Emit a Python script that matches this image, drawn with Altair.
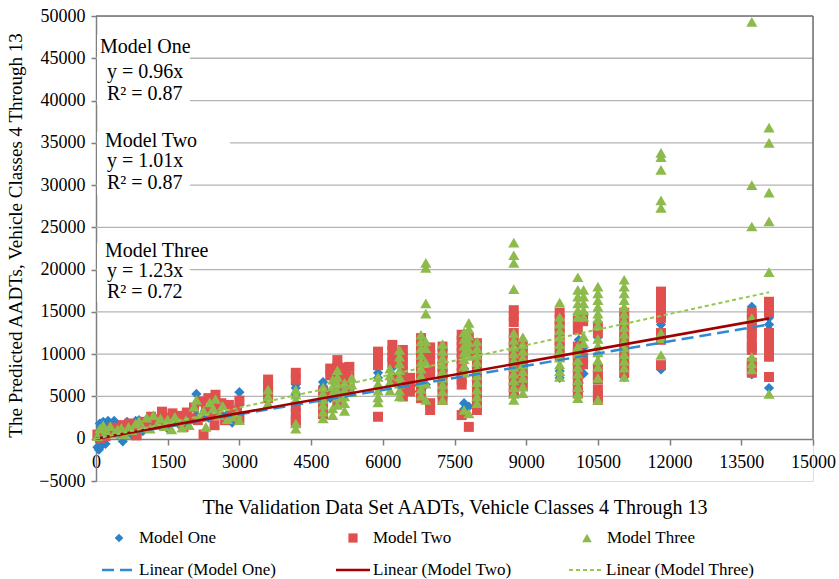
import altair as alt
import pandas as pd

# ---------------- data ----------------
x_ticks = [0, 1500, 3000, 4500, 6000, 7500, 9000, 10500, 12000, 13500, 15000]
y_ticks = [-5000, 0, 5000, 10000, 15000, 20000, 25000, 30000, 35000, 40000, 45000, 50000]
grid_vals = [5000, 10000, 15000, 20000, 25000, 30000, 35000, 40000, 45000]

model_names = ["Model One", "Model Two", "Model Three"]
slopes = [0.96, 1.01, 1.23]
r_squared = [0.87, 0.87, 0.72]

# Model One (blue diamonds)
one_low_x = [30, 30, 60, 80, 100, 120, 150, 180, 200, 250, 280, 330, 380, 430, 450, 500, 560, 620, 650, 700,
             760, 830, 900, 980, 1050, 1120, 1200, 1280, 1350, 1420, 1500, 1580, 1650, 1720, 1800, 1880, 1950,
             2100, 2100, 2200, 2280, 2350, 2430, 2500, 2580, 2650, 2750, 2850, 2950, 3000, 3000]
one_low_y = [-1000, 300, -1300, 1800, 1400, -800, 2000, 1700, -600, 2100, 1900, 1200, 2100, 1800, 500, 1600,
             -300, 1100, 2000, 1700, 400, 2100, 2200, 900, 2000, 2600, 1800, 2300, 1500, 2700, 1200, 2300, 2600,
             1800, 2400, 2000, 2500, 5300, 2800, 2600, 3300, 2500, 3900, 4200, 3100, 2600, 2900, 1900, 2400,
             5500, 4000]
one_hi_x = [3600, 4180, 4750, 4900, 5100, 5300, 5900, 6200, 6400, 6600, 6900, 7250, 7700, 7800, 7970, 8750,
            8930, 9700, 10100, 10200, 10500, 11050, 11820, 13720, 14080]
one_hi_y = [[6000, 5500], [6400, 6000, 5200], [6700, 6200, 4200], [5500, 4800], [6000, 5200], [6700, 6100],
            [7800, 7200], [8400, 7400], [7600, 6800], [5600, 6300], [9500, 8000, 6400], [9800, 7200, 5400],
            [10200, 8300, 4200, 3500], [10000, 3800], [9000, 6400, 4800], [9900, 8000, 6500, 5300],
            [8800, 7200], [9500, 8000, 7200], [11700, 8000, 6600, 5600], [10800, 7700], [12000, 10000, 8700],
            [11200, 9800, 7300], [13500, 8200], [15600, 12500, 7600], [14300, 13500, 12900, 6000]]

# Model Two (red squares)
two_low_x = [30, 80, 130, 200, 280, 350, 430, 500, 560, 640, 700, 780, 850, 920, 1000, 1080, 1150, 1230, 1300,
             1380, 1450, 1520, 1600, 1680, 1750, 1830, 1900, 1980, 2050, 2130, 2200, 2250, 2300, 2350, 2420,
             2480, 2500, 2550, 2620, 2700, 2780, 2850, 2950, 3000, 3000]
two_low_y = [500, 100, 800, 300, 900, 1300, 700, 1100, 1600, 900, 1800, 1200, 400, 1700, 2000, 1400, 2600,
             2300, 1800, 3200, 2500, 2000, 3000, 2600, 2700, 1400, 3100, 2400, 3700, 2200, 4400, 500, 3300,
             4800, 2900, 1600, 5200, 3600, 4200, 2200, 4000, 2800, 3300, 4500, 2400]
two_hi_x = [3600, 4180, 4750, 4900, 5050, 5200, 5300, 5900, 6200, 6420, 6570, 6800, 6990, 7250, 7650, 7800,
            7970, 8740, 8930, 9700, 10080, 10190, 10500, 11050, 11820, 13720, 14080]
two_hi_y = [[7000, 6300, 5600, 4800], [7800, 7000, 3800, 3000, 2200, 1900], [5600, 4400, 3400, 2900],
            [8300, 7500, 5200], [9300, 8500, 7700, 4200], [8400, 7800, 7000, 6300], [8500, 7300, 6600, 6000],
            [10300, 9500, 8700, 2600], [11100, 10400, 9600, 9000, 7000],
            [10500, 9700, 8900, 8000, 7200, 6400, 5600, 5000], [7200, 6400, 5600],
            [11900, 11100, 10300, 9500, 8700, 7900, 7100, 6300, 5500, 4800],
            [10800, 10000, 9200, 8400, 7600, 4200, 3400],
            [10900, 10100, 9300, 8500, 7700, 6900, 6100, 5300, 4600],
            [12300, 11600, 10900, 10200, 9400, 8600, 7800, 7000, 6400, 2800], [12000, 11300, 10600, 1400],
            [11300, 10500, 9700, 8900, 8100, 7300, 6500, 5700, 4900, 4100, 3400],
            [15200, 14500, 13800, 12500, 11700, 10900, 10100, 9300, 8500, 7700, 6900, 6100, 5400],
            [11000, 10200, 9400, 8200, 7200, 6200], [14900, 14100, 13300, 12400, 11600, 10800, 9800],
            [14000, 12900, 10900, 10100, 9300, 8500, 7700, 6900, 6100, 5400], [14400, 13900, 9600, 8800],
            [13300, 12500, 8200, 7500, 7000, 5800, 5100, 4600],
            [14900, 14100, 13300, 12500, 11700, 10900, 10100, 9300, 8500, 7800],
            [17400, 16600, 15800, 15000, 14300, 12500, 11700, 8700],
            [14900, 14100, 13300, 12500, 11700, 10900, 10500, 9000, 8400, 7800],
            [16200, 15500, 15000, 12500, 11700, 10900, 10200, 9700, 7300]]

# Model Three (green triangles)
three_low_x = [30, 80, 150, 220, 300, 380, 450, 530, 600, 680, 750, 830, 900, 980, 1060, 1130, 1200, 1280, 1350,
               1430, 1500, 1580, 1650, 1730, 1800, 1880, 1950, 2050, 2100, 2150, 2250, 2300, 2380, 2450, 2500,
               2580, 2650, 2750, 2850, 2950, 3000]
three_low_y = [300, 1200, 1600, 900, 1500, 600, 1100, 1300, 500, 1400, 1000, 1800, 2100, 1300, 2500, 1200, 2800,
               1700, 2400, 1500, 2300, 1100, 2600, 2000, 1300, 2200, 1600, 3800, 4600, 2600, 3300, 1400, 4300,
               3600, 4700, 2800, 3900, 2300, 2600, 3000, 2200]
three_hi_x = [3600, 4180, 4750, 4950, 5050, 5200, 5350, 5900, 6150, 6350, 6800, 6900, 7250, 7700, 7800, 7970,
              8740, 8930, 9700, 10080, 10200, 10500, 11050, 11820, 13720, 14080]
three_hi_y = [[5800, 5000, 4200], [5800, 5200, 4600, 1800, 1200], [6100, 5400, 4700, 4000, 3200, 2400],
              [7000, 6200, 5400, 3600, 2800], [8100, 7300, 6500, 5700, 4900, 4000], [6600, 5800, 5000, 4200, 3300],
              [7200, 6400, 5500], [7300, 6500, 5700, 4900, 4300], [8300, 7500, 6700, 5700],
              [10500, 9700, 8900, 8100, 7300, 6500, 5700, 5000],
              [12300, 11500, 10700, 9900, 9100, 8300, 7500, 6700, 5900, 5100],
              [20800, 20200, 16000, 14800, 11500, 10700, 9000, 6500, 4600],
              [11200, 10400, 9600, 8800, 8000, 7200, 6400, 5600, 4600],
              [12600, 11800, 11000, 10200, 9400, 8600, 7800, 3400],
              [13700, 13000, 12200, 11400, 10600, 9800, 3000],
              [11500, 10700, 9900, 9100, 8300, 7500, 6700, 5800, 5000, 4200],
              [23200, 21700, 20800, 17700, 12500, 11700, 10900, 10100, 9300, 8500, 7700, 6900, 6100, 5300, 4600],
              [12000, 11200, 10400, 9600, 8800, 8000, 7200, 6200, 5400],
              [16100, 14400, 13600, 12800, 12000, 11200, 10400, 9600, 8800, 8000, 7300],
              [19100, 17600, 16800, 16000, 15200, 14400, 10900, 10100, 9300, 8500, 7700, 6900, 6100, 5300, 4800],
              [17600, 16800, 16000, 15200, 14400, 12100, 11300],
              [18000, 17200, 16400, 15600, 14800, 14200, 13400, 11800, 11000, 10200, 9300, 8500, 7200, 4600],
              [18800, 18000, 17200, 16400, 15600, 14800, 14000, 13200, 12400, 11600, 10800, 10000, 9200, 8400, 7300],
              [33800, 33300, 31800, 28200, 27300, 12500, 11900, 9900],
              [49300, 30000, 25100, 14300, 9700, 8900, 8200],
              [36800, 35000, 29100, 25700, 19700, 5300]]

# ---------------- styling ----------------
FONT = "Liberation Serif"
C_BLUE, C_RED, C_GREEN = "#2A82C8", "#E0504E", "#8DBB4B"
C_BLUE_LINE, C_RED_LINE, C_GREEN_LINE = "#2E8BD2", "#A00000", "#93C952"
W, H = 717, 465


def build(low_x, low_y, hi_x, hi_y, name):
    xs, ys = list(low_x), list(low_y)
    for xv, vals in zip(hi_x, hi_y):
        for v in vals:
            xs.append(xv)
            ys.append(v)
    return pd.DataFrame({"x": xs, "y": ys, "model": name})


df_one = build(one_low_x, one_low_y, one_hi_x, one_hi_y, model_names[0])
df_two = build(two_low_x, two_low_y, two_hi_x, two_hi_y, model_names[1])
df_three = build(three_low_x, three_low_y, three_hi_x, three_hi_y, model_names[2])

trend_frames = []
for name, s, d in zip(model_names, slopes, [df_one, df_two, df_three]):
    xmax = d["x"].max()
    trend_frames.append(pd.DataFrame({"x": [0, xmax], "y": [0, s * xmax], "model": name}))

x_axis = alt.Axis(values=x_ticks, format="d", title="The Validation Data Set AADTs, Vehicle Classes 4 Through 13",
                  offset=-42, grid=False, domainColor="#7F7F7F", domainWidth=1.5, tickColor="#7F7F7F",
                  tickWidth=1.5, tickSize=6, labelFont=FONT, labelFontSize=18, labelColor="black",
                  labelPadding=8, labelFlush=False, labelOverlap=False, titleFont=FONT, titleFontSize=20,
                  titleFontWeight="normal", titleColor="black", titlePadding=26, zindex=0)
y_axis = alt.Axis(values=y_ticks, format="d", title="The Predicted AADTs, Vehicle Classes 4 Through 13",
                  grid=False, domainColor="#7F7F7F", domainWidth=1.5, tickColor="#7F7F7F", tickWidth=1.5,
                  tickSize=5, labelFont=FONT, labelFontSize=18, labelColor="black", labelPadding=6,
                  labelFlush=False, labelOverlap=False, titleFont=FONT, titleFontSize=19, titleFontWeight="normal",
                  titleColor="black", titleX=-81, titleY=219, titleBaseline="middle", titleAlign="center",
                  zindex=0)
x_scale = alt.Scale(domain=[x_ticks[0], x_ticks[-1]], nice=False, zero=False)
y_scale = alt.Scale(domain=[y_ticks[0], y_ticks[-1]], nice=False, zero=False)


def X(f="x"):
    return alt.X(f"{f}:Q", scale=x_scale, axis=x_axis)


def Y(f="y"):
    return alt.Y(f"{f}:Q", scale=y_scale, axis=y_axis)


grid = alt.Chart(pd.DataFrame({"g": grid_vals})).mark_rule(color="#B4B4B4", strokeWidth=1.3).encode(y=Y("g"))
top_border = alt.Chart(pd.DataFrame({"y": [y_ticks[-1]], "x": [x_ticks[0]], "x2": [x_ticks[-1]]})).mark_rule(
    color="#6E6E6E", strokeWidth=1.5).encode(y=Y(), x=X(), x2="x2:Q")
right_border = alt.Chart(pd.DataFrame({"x": [x_ticks[-1]], "y": [0], "y2": [y_ticks[-1]]})).mark_rule(
    color="#6E6E6E", strokeWidth=1.5).encode(x=X(), y=Y(), y2="y2:Q")

# white boxes behind the equation labels (plot pixel coordinates)
boxes = []
for (bx1, bx2, by1, by2) in [(1, 94, 19, 89), (1, 134, 116, 134), (1, 94, 134, 179), (1, 94, 227, 286)]:
    boxes.append(alt.Chart(pd.DataFrame({"k": [0]})).mark_rect(color="white").encode(
        x=alt.value(bx1), x2=alt.value(bx2), y=alt.value(by1), y2=alt.value(by2)))

pts_one = alt.Chart(df_one).mark_point(shape="diamond", filled=True, size=105, opacity=1, color=C_BLUE).encode(
    x=X(), y=Y())
pts_two = alt.Chart(df_two).mark_point(shape="square", filled=True, size=100, opacity=1, color=C_RED).encode(
    x=X(), y=Y())
pts_three = alt.Chart(df_three).mark_point(shape="triangle-up", filled=True, size=125, opacity=1,
                                           color=C_GREEN).encode(x=X(), y=Y())

line_one = alt.Chart(trend_frames[0]).mark_line(color=C_BLUE_LINE, strokeWidth=2.5, strokeDash=[12, 6]).encode(
    x=X(), y=Y())
line_two = alt.Chart(trend_frames[1]).mark_line(color=C_RED_LINE, strokeWidth=2.5).encode(x=X(), y=Y())
line_three = alt.Chart(trend_frames[2]).mark_line(color=C_GREEN_LINE, strokeWidth=2, strokeDash=[4, 3]).encode(
    x=X(), y=Y())

# equation annotations
ann_layers = []
ann_pos = [((4, 37), (11, 62), (11, 84)), ((9, 131), (11, 151), (11, 173)), ((9, 241), (11, 261), (11, 282))]
for name, s, r2, pos in zip(model_names, slopes, r_squared, ann_pos):
    texts = [name, f"y = {s:.2f}x", f"R\u00b2 = {r2:.2f}"]
    for t, (px, py) in zip(texts, pos):
        ann_layers.append(alt.Chart(pd.DataFrame({"t": [t]})).mark_text(
            font=FONT, fontSize=20, align="left", baseline="alphabetic", color="black").encode(
            text="t:N", x=alt.value(px), y=alt.value(py)))

# legend (drawn below the plot)
leg = []
row1, row2 = 522, 554
sym_specs = [("diamond", C_BLUE, 23, 43, 75), ("square", C_RED, 257, 277, 85), ("triangle-up", C_GREEN, 491, 511, 95)]
for name, (shape, col, sx, tx, sz) in zip(model_names, sym_specs):
    leg.append(alt.Chart(pd.DataFrame({"k": [0]})).mark_point(shape=shape, filled=True, size=sz, opacity=1,
                                                                color=col).encode(x=alt.value(sx), y=alt.value(row1)))
    leg.append(alt.Chart(pd.DataFrame({"t": [name]})).mark_text(font=FONT, fontSize=17, align="left",
                                                                  baseline="middle", color="black").encode(
        text="t:N", x=alt.value(tx), y=alt.value(row1)))
line_specs = [(C_BLUE_LINE, [12, 6], 2.5, 6, 39, 43), (C_RED_LINE, [1, 0], 2.5, 240, 274, 277),
              (C_GREEN_LINE, [4, 3], 2, 473, 507, 510)]
for name, (col, dash, sw, x1, x2, tx) in zip(model_names, line_specs):
    leg.append(alt.Chart(pd.DataFrame({"k": [0]})).mark_rule(color=col, strokeWidth=sw, strokeDash=dash).encode(
        x=alt.value(x1), x2=alt.value(x2), y=alt.value(row2)))
    leg.append(alt.Chart(pd.DataFrame({"t": [f"Linear ({name})"]})).mark_text(
        font=FONT, fontSize=17, align="left", baseline="middle", color="black").encode(
        text="t:N", x=alt.value(tx), y=alt.value(row2)))

chart = alt.layer(grid, *boxes, top_border, right_border, pts_one, pts_two, pts_three,
                  line_one, line_two, line_three, *ann_layers, *leg).properties(
    width=W, height=H,
    padding={"left": 96, "top": 16, "right": 26, "bottom": 98},
    autosize=alt.AutoSizeParams(type="none"),
).configure_view(stroke=None).configure(font=FONT)

chart.save("out.html", embed_options={"renderer": "svg", "actions": False})
